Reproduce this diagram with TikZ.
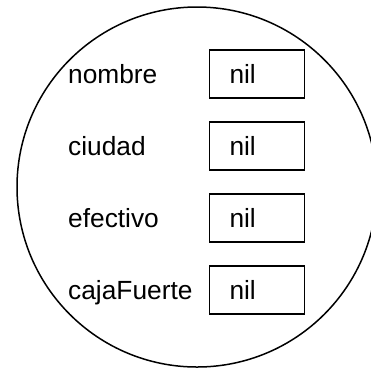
\documentclass[tikz,border=0pt]{standalone}
\usepackage{fontspec}
\setmainfont{Liberation Sans}
\begin{document}
\begin{tikzpicture}[x=1pt,y=-1pt,
  every node/.style={font=\fontsize{26.3}{30}\selectfont},
  valbox/.style={draw, line width=1.8pt, minimum height=48pt, inner xsep=20pt,
    text width=55pt, align=left, text height=18pt, text depth=0pt},
  lbl/.style={anchor=base west, inner sep=0pt}]
\useasboundingbox (0,0) rectangle (371,368);
\begin{scope}
  \clip (0,0) rectangle (371,368);
  \draw[line width=1.5pt] (197,187) circle[radius=180pt];
\end{scope}
\node[valbox] (v1) at (257,74) {nil};
\node[valbox] (v2) at (257,146) {nil};
\node[valbox] (v3) at (257,218) {nil};
\node[valbox] (v4) at (257,290) {nil};
\node[lbl] (l1) at (68,83.5) {nombre};
\node[lbl] (l2) at (68,155.5) {ciudad};
\node[lbl] (l3) at (68,227.5) {efectivo};
\node[lbl] (l4) at (68,299.5) {cajaFuerte};
\end{tikzpicture}
\end{document}
